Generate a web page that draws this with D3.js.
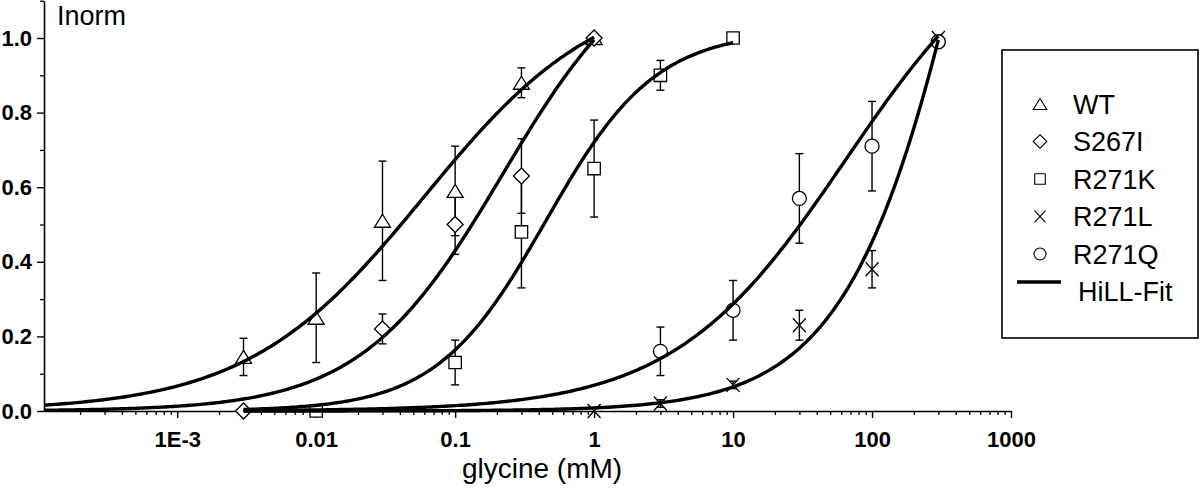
<!DOCTYPE html>
<html>
<head>
<meta charset="utf-8">
<script src="https://cdn.jsdelivr.net/npm/d3@7"></script>
<style>
  body { margin: 0; background: #fff; }
  svg { display: block; font-family: "Liberation Sans", Arial, Helvetica, sans-serif; }
</style>
</head>
<body>
<div id="container"></div>
<script>
// ---- data ----
const seriesNames = ["WT", "S267I", "R271K", "R271L", "R271Q"];
const seriesShapes = ["triangle", "diamond", "square", "times", "circle"];

const concWT = [0.003, 0.01, 0.03, 0.1, 0.3, 1];
const meanWT = [0.145, 0.25, 0.51, 0.59, 0.88, 1.0];
const errWT  = [0.05, 0.12, 0.16, 0.12, 0.04, 0];

const concS267I = [0.003, 0.03, 0.1, 0.3, 1];
const meanS267I = [0.0, 0.22, 0.50, 0.63, 1.0];
const errS267I  = [0, 0.04, 0.08, 0.10, 0];

const concR271K = [0.01, 0.1, 0.3, 1, 3, 10];
const meanR271K = [0.0, 0.13, 0.48, 0.65, 0.90, 1.0];
const errR271K  = [0, 0.06, 0.15, 0.13, 0.04, 0];

const concR271L = [1, 3, 10, 30, 100, 300];
const meanR271L = [0.0, 0.02, 0.07, 0.23, 0.38, 1.0];
const errR271L  = [0, 0.01, 0.01, 0.04, 0.05, 0];

const concR271Q = [3, 10, 30, 100, 300];
const meanR271Q = [0.16, 0.27, 0.57, 0.71, 0.99];
const errR271Q  = [0.065, 0.08, 0.12, 0.12, 0];

// Hill fit parameters  I = Imax / (1 + (EC50/c)^nH), drawn over [fitFrom, fitTo]
const fitEC50 = [0.06, 0.22, 0.45, 800, 65];
const fitHill = [0.68, 0.85, 1.1, 0.9, 0.7];
const fitMax  = [1.15, 1.27, 1.02, 3.4, 1.35];
const fitFrom = [1.1e-4, 1.1e-4, 0.003, 0.003, 0.003];
const fitTo   = [1, 1, 10, 300, 300];

const xTickValues = [1e-3, 0.01, 0.1, 1, 10, 100, 1000];
const xTickLabels = ["1E-3", "0.01", "0.1", "1", "10", "100", "1000"];
const yTickValues = [0, 0.2, 0.4, 0.6, 0.8, 1.0];
const yMinorValues = [0.1, 0.3, 0.5, 0.7, 0.9, 1.1];

const legendLabels = ["WT", "S267I", "R271K", "R271L", "R271Q"];
const fitLabel = "HiLL-Fit";

// ---- layout ----
let w = 1200;
let h = 488;

const x = d3.scaleLog().domain([1.1e-4, 1000]).range([44, 1011]);
const y = d3.scaleLinear().domain([0, 1.1]).range([411, 0.7]);

const conc = [concWT, concS267I, concR271K, concR271L, concR271Q];
const mean = [meanWT, meanS267I, meanR271K, meanR271L, meanR271Q];
const err  = [errWT, errS267I, errR271K, errR271L, errR271Q];

const data = seriesNames.map((name, i) => ({
  name: name,
  shape: seriesShapes[i],
  points: conc[i].map((c, j) => ({c: c, v: mean[i][j], e: err[i][j]}))
}));

let viz = d3.select("#container")
  .append("svg")
    .attr("width", w)
    .attr("height", h)
    .style("background-color", "#fff");

// marker paths
function markerPath(shape) {
  if (shape == "triangle") return "M0,-6.5L8,6.5L-8,6.5Z";
  if (shape == "diamond") return "M0,-8L8,0L0,8L-8,0Z";
  if (shape == "square") return "M-6.2,-6.2H6.2V6.2H-6.2Z";
  if (shape == "times") return "M-6.5,-7L6.5,7M-6.5,7L6.5,-7";
  if (shape == "circle") return "M7,0A7,7 0 1,1 -7,0A7,7 0 1,1 7,0Z";
}

// ---- axes ----
const minorX = [];
d3.range(-4, 3).forEach(p => {
  d3.range(2, 10).forEach(m => {
    let v = m * Math.pow(10, p);
    if (v > 1.1e-4 && v < 1000) minorX.push(v);
  });
});

let xAxisG = viz.append("g")
  .attr("transform", "translate(0," + y(0) + ")")
  .call(d3.axisBottom(x).tickValues(xTickValues)
    .tickFormat((d, i) => xTickLabels[i]).tickSize(7).tickSizeOuter(0));
xAxisG.select(".domain").attr("stroke-width", 1.6);
xAxisG.selectAll(".tick line").attr("stroke-width", 1.4);
xAxisG.selectAll(".tick text")
  .attr("y", 20).attr("dy", "0.71em")
  .style("font-size", "22px").style("font-weight", "bold").attr("fill", "#000");

let xMinorG = viz.append("g")
  .attr("transform", "translate(0," + y(0) + ")")
  .call(d3.axisBottom(x).tickValues(minorX).tickFormat("").tickSize(4).tickSizeOuter(0));
xMinorG.select(".domain").remove();
xMinorG.selectAll(".tick line").attr("stroke-width", 1.3);

let yAxisG = viz.append("g")
  .attr("transform", "translate(" + x(1.1e-4) + ",0)")
  .call(d3.axisLeft(y).tickValues(yTickValues)
    .tickFormat(d3.format(".1f")).tickSize(7).tickPadding(5).tickSizeOuter(0));
yAxisG.select(".domain").attr("stroke-width", 1.6);
yAxisG.selectAll(".tick line").attr("stroke-width", 1.4);
yAxisG.selectAll(".tick text")
  .style("font-size", "22px").style("font-weight", "bold").attr("fill", "#000");

let yMinorG = viz.append("g")
  .attr("transform", "translate(" + x(1.1e-4) + ",0)")
  .call(d3.axisLeft(y).tickValues(yMinorValues).tickFormat("").tickSize(4).tickSizeOuter(0));
yMinorG.select(".domain").remove();
yMinorG.selectAll(".tick line").attr("stroke-width", 1.3);

// axis titles
viz.append("text")
  .attr("x", 57).attr("y", 25)
  .style("font-size", "27px")
  .text("Inorm");

viz.append("text")
  .attr("x", 542).attr("y", 478)
  .attr("text-anchor", "middle")
  .style("font-size", "28px")
  .text("glycine (mM)");

// ---- error bars ----
let errG = viz.append("g").attr("stroke", "#000").attr("stroke-width", 1.4).attr("fill", "none");
data.forEach(s => {
  s.points.filter(p => p.e > 0).forEach(p => {
    let cx = x(p.c);
    errG.append("line").attr("x1", cx).attr("x2", cx).attr("y1", y(p.v - p.e)).attr("y2", y(p.v + p.e));
    errG.append("line").attr("x1", cx - 4).attr("x2", cx + 4).attr("y1", y(p.v + p.e)).attr("y2", y(p.v + p.e));
    errG.append("line").attr("x1", cx - 4).attr("x2", cx + 4).attr("y1", y(p.v - p.e)).attr("y2", y(p.v - p.e));
  });
});

// ---- markers ----
let markG = viz.append("g");
data.forEach(s => {
  markG.selectAll(null)
    .data(s.points)
    .join("path")
      .attr("d", markerPath(s.shape))
      .attr("transform", d => "translate(" + x(d.c) + "," + y(d.v) + ")")
      .attr("fill", s.shape == "times" ? "none" : "#fff")
      .attr("stroke", "#000")
      .attr("stroke-width", 1.3);
});

// ---- Hill fit curves ----
const line = d3.line().x(d => x(d[0])).y(d => y(d[1]));
let fitG = viz.append("g").attr("fill", "none").attr("stroke", "#000").attr("stroke-width", 3.4);
seriesNames.forEach((name, i) => {
  const lo = Math.log10(fitFrom[i]);
  const hi = Math.log10(fitTo[i]);
  const pts = d3.range(0, 201).map(k => {
    const c = Math.pow(10, lo + (hi - lo) * k / 200);
    return [c, fitMax[i] / (1 + Math.pow(fitEC50[i] / c, fitHill[i]))];
  });
  fitG.append("path").attr("d", line(pts));
});

// ---- legend ----
let legend = viz.append("g");
legend.append("rect")
  .attr("x", 1002).attr("y", 50).attr("width", 196).attr("height", 288)
  .attr("fill", "#fff").attr("stroke", "#000").attr("stroke-width", 1.6);

legendLabels.forEach((lab, i) => {
  let ly = 104 + i * 37.5;
  legend.append("path")
    .attr("d", markerPath(seriesShapes[i]))
    .attr("transform", "translate(1040," + ly + ") scale(0.85)")
    .attr("fill", seriesShapes[i] == "times" ? "none" : "#fff")
    .attr("stroke", "#000").attr("stroke-width", 1.3);
  legend.append("text")
    .attr("x", 1073).attr("y", ly).attr("dy", "0.36em")
    .style("font-size", "27px")
    .text(lab);
});
legend.append("line")
  .attr("x1", 1017).attr("x2", 1061).attr("y1", 282).attr("y2", 282)
  .attr("stroke", "#000").attr("stroke-width", 3.4);
legend.append("text")
  .attr("x", 1078).attr("y", 291).attr("dy", "0.36em")
  .style("font-size", "27px")
  .text(fitLabel);
</script>
</body>
</html>
